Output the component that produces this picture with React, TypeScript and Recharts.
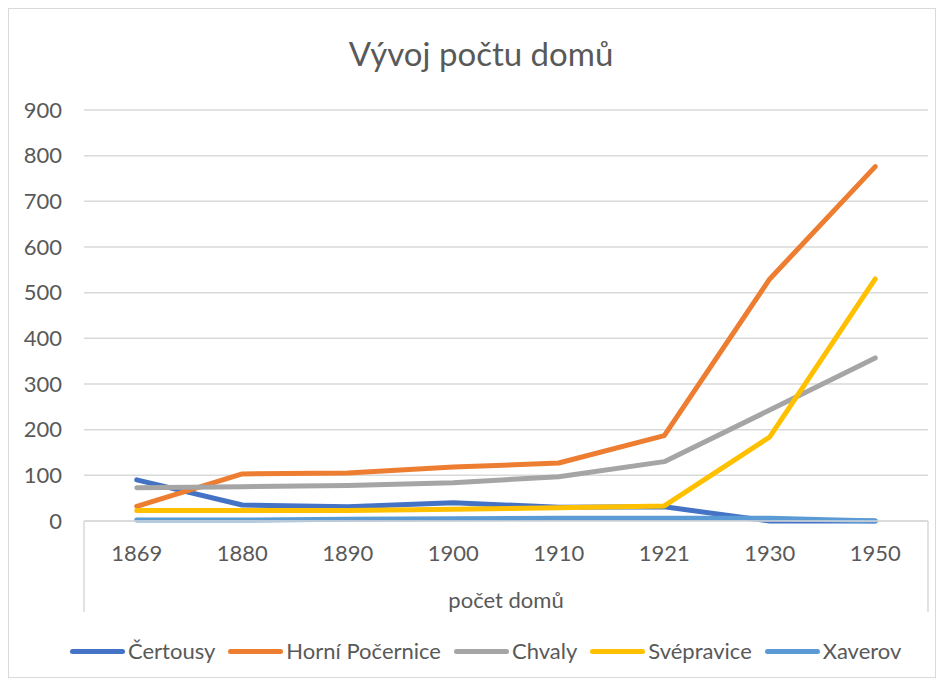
import { LineChart, Line, XAxis, YAxis, CartesianGrid } from 'recharts';

const years = ['1869', '1880', '1890', '1900', '1910', '1921', '1930', '1950'];
const certousy = [90, 35, 31, 40, 30, 31, 0, 0];
const horniPocernice = [32, 103, 105, 118, 127, 187, 530, 776];
const chvaly = [73, 75, 78, 84, 97, 130, 243, 357];
const svepravice = [23, 23, 23, 26, 29, 33, 184, 530];
const xaverov = [2, 2, 4, 5, 6, 6, 6, 0];
const yTicks = [0, 100, 200, 300, 400, 500, 600, 700, 800, 900];

const series = [
  { name: 'Čertousy', values: certousy, color: '#4472C4' },
  { name: 'Horní Počernice', values: horniPocernice, color: '#ED7D31' },
  { name: 'Chvaly', values: chvaly, color: '#A5A5A5' },
  { name: 'Svépravice', values: svepravice, color: '#FFC000' },
  { name: 'Xaverov', values: xaverov, color: '#5B9BD5' },
];

const data = years.map((year, i) => {
  const row: { [key: string]: string | number } = { year };
  series.forEach(s => {
    row[s.name] = s.values[i];
  });
  return row;
});

const W = 926;
const H = 668;
const MARGIN = { top: 101, right: 7, left: 0, bottom: 64 };
const Y_AXIS_W = 75;
const X_AXIS_H = 92;
const PLOT_W = W - MARGIN.left - MARGIN.right - Y_AXIS_W;
const BAND = PLOT_W / years.length;
const TEXT = '#595959';
const GRID = '#D9D9D9';
const FONT = 'Lato, "Open Sans", sans-serif';

function YearTick(props: any) {
  const { x, y, payload, index } = props;
  return (
    <g>
      {index === 0 && (
        <line x1={x - BAND / 2} y1={y} x2={x - BAND / 2} y2={y + 91} stroke={GRID} strokeWidth={1.5} />
      )}
      {index === years.length - 1 && (
        <line x1={x + BAND / 2} y1={y} x2={x + BAND / 2} y2={y + 91} stroke={GRID} strokeWidth={1.5} />
      )}
      <text x={x} y={y + 40} textAnchor="middle" fill={TEXT} fontSize={22} fontFamily={FONT}>
        {payload.value}
      </text>
    </g>
  );
}

export default function App() {
  return (
    <div
      style={{
        position: 'relative',
        width: 928,
        height: 670,
        boxSizing: 'border-box',
        border: '1px solid #D9D9D9',
        background: '#fff',
        fontFamily: FONT,
      }}
    >
      <LineChart width={W} height={H} data={data} margin={MARGIN}>
        <CartesianGrid vertical={false} stroke={GRID} strokeWidth={1.5} />
        <XAxis
          dataKey="year"
          scale="band"
          height={X_AXIS_H}
          tickLine={false}
          tickSize={0}
          tickMargin={0}
          axisLine={{ stroke: GRID, strokeWidth: 1.5 }}
          tick={<YearTick />}
          interval={0}
        />
        <YAxis
          width={Y_AXIS_W}
          domain={[0, 900]}
          ticks={yTicks}
          tickLine={false}
          axisLine={false}
          tickSize={0}
          tickMargin={22}
          tick={{ fill: TEXT, fontSize: 22, fontFamily: FONT }}
        />
        {series.map(s => (
          <Line
            key={s.name}
            type="linear"
            dataKey={s.name}
            stroke={s.color}
            strokeWidth={5}
            strokeLinecap="round"
            strokeLinejoin="round"
            dot={false}
            activeDot={false}
            isAnimationActive={false}
          />
        ))}
      </LineChart>

      {/* title */}
      <div
        style={{
          position: 'absolute',
          left: 0,
          top: 28,
          width: 944,
          textAlign: 'center',
          fontSize: 33,
          lineHeight: '33px',
          color: TEXT,
        }}
      >
        Vývoj počtu domů
      </div>

      {/* axis title */}
      <div
        style={{
          position: 'absolute',
          left: 75,
          top: 580,
          width: PLOT_W,
          textAlign: 'center',
          fontSize: 22,
          lineHeight: '22px',
          color: TEXT,
        }}
      >
        počet domů
      </div>

      {/* legend */}
      <div
        style={{
          position: 'absolute',
          left: 61,
          top: 631,
          display: 'flex',
          alignItems: 'center',
          fontSize: 22,
          lineHeight: '22px',
          color: TEXT,
          whiteSpace: 'nowrap',
        }}
      >
        {series.map(s => (
          <div key={s.name} style={{ display: 'flex', alignItems: 'center', marginRight: 13 }}>
            <span
              style={{
                display: 'inline-block',
                width: 55,
                height: 5,
                borderRadius: 3,
                background: s.color,
                marginRight: 3,
              }}
            />
            <span>{s.name}</span>
          </div>
        ))}
      </div>
    </div>
  );
}
